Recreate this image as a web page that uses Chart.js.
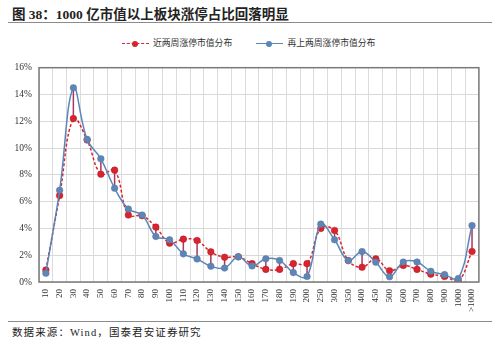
<!DOCTYPE html>
<html>
<head>
<meta charset="utf-8">
<script src="https://cdn.jsdelivr.net/npm/chart.js@4.4.0/dist/chart.umd.min.js"></script>
<style>
body { margin: 0; width: 499px; height: 344px; background: #fff; position: relative; overflow: hidden;
       font-family: 'Liberation Serif', 'Noto Sans CJK SC', serif; color: #222; }
#title { position: absolute; left: 12px; top: 3px; font-size: 13.5px; font-weight: bold; white-space: nowrap; }
.rule { position: absolute; left: 8px; width: 484px; height: 1px; background: #8c8c8c; }
#legend { position: absolute; top: 36px; left: 122px; font-size: 8.8px; color: #333; white-space: nowrap; }
.item { display: inline-block; vertical-align: middle; }
.swatch { display: inline-block; position: relative; width: 27px; height: 10px; vertical-align: middle; margin-right: 4px; }
.swatch .ln { position: absolute; left: 0; right: 0; top: 4px; }
.swatch .dot { position: absolute; left: 10px; top: 2px; width: 6px; height: 6px; border-radius: 50%; }
#chartBox { position: absolute; left: 0; top: 55px; }
#source { position: absolute; left: 12px; top: 324px; font-size: 10.5px; letter-spacing: 1.1px; white-space: nowrap; }
</style>
</head>
<body>
<div id="title">图 38：1000 亿市值以上板块涨停占比回落明显</div>
<div class="rule" style="top:22px"></div>
<div id="legend">
  <span class="item"><span class="swatch"><span class="ln" style="border-top:1.5px dashed #d9232e"></span><span class="dot" style="background:#d9232e"></span></span>近两周涨停市值分布</span>
  <span class="item" style="margin-left:22px"><span class="swatch"><span class="ln" style="border-top:1.5px solid #5b86ba"></span><span class="dot" style="background:#5b86ba"></span></span>再上两周涨停市值分布</span>
</div>
<div id="chartBox"><canvas id="chart" width="490" height="262"></canvas></div>
<div class="rule" style="top:321px"></div>
<div id="source">数据来源：Wind，国泰君安证券研究</div>

<script>
var categories = ['10', '20', '30', '40', '50', '60', '70', '80', '90', '100',
    '110', '120', '130', '140', '150', '160', '170', '180', '190', '200',
    '250', '300', '350', '400', '450', '500', '600', '700', '800', '900', '1000', '>1000'];

// 近两周 (red, dashed)
var recentShare = [0.9, 6.45, 12.2, 10.6, 8.05, 8.35, 5.0, 4.95, 4.1, 2.9,
    3.2, 3.1, 2.25, 1.85, 1.88, 1.37, 0.94, 0.94, 1.37, 1.37,
    4.0, 3.85, 1.6, 1.1, 1.73, 0.84, 1.23, 0.94, 0.58, 0.41, 0.05, 2.28];

// 再上两周 (blue, solid)
var priorShare = [0.65, 6.85, 14.5, 10.65, 9.2, 7.0, 5.45, 5.0, 3.4, 3.15,
    2.1, 1.72, 1.18, 1.04, 1.88, 1.2, 1.73, 1.61, 0.7, 0.41,
    4.32, 3.15, 1.6, 2.27, 1.47, 0.39, 1.49, 1.49, 0.8, 0.55, 0.25, 4.22];

var yTicks = [0, 2, 4, 6, 8, 10, 12, 14, 16];

var RED = '#d9232e';
var BLUE = '#5b86ba';

// excel style high-low lines + plot frame
var hiLoPlugin = {
    id: 'hiLo',
    beforeDatasetsDraw: function (chart) {
        var ctx = chart.ctx;
        var a = chart.getDatasetMeta(0).data;
        var b = chart.getDatasetMeta(1).data;
        ctx.save();
        ctx.strokeStyle = '#a8375f';
        ctx.lineWidth = 1.5;
        for (var i = 0; i < a.length; i++) {
            ctx.beginPath();
            ctx.moveTo(a[i].x, a[i].y);
            ctx.lineTo(b[i].x, b[i].y);
            ctx.stroke();
        }
        ctx.restore();
    },
    afterDraw: function (chart) {
        var c = chart.chartArea, ctx = chart.ctx;
        ctx.save();
        ctx.strokeStyle = '#7a7a7a';
        ctx.lineWidth = 1.5;
        ctx.strokeRect(c.left, c.top, c.right - c.left, c.bottom - c.top);
        ctx.restore();
    }
};

new Chart(document.getElementById('chart'), {
    type: 'line',
    data: {
        labels: categories,
        datasets: [
            {
                label: '近两周涨停市值分布', data: recentShare,
                borderColor: RED, backgroundColor: RED, borderWidth: 1.5, borderDash: [3, 2],
                pointRadius: 3.3, pointBackgroundColor: RED, pointBorderColor: '#b01c26', pointBorderWidth: 0.5,
                tension: 0.4, order: 2
            },
            {
                label: '再上两周涨停市值分布', data: priorShare,
                borderColor: BLUE, backgroundColor: BLUE, borderWidth: 1.5,
                pointRadius: 3.3, pointBackgroundColor: BLUE, pointBorderColor: '#6a7590', pointBorderWidth: 0.5,
                tension: 0.4, order: 1
            }
        ]
    },
    options: {
        responsive: false,
        animation: false,
        layout: { padding: { top: 5, right: 11, left: 0, bottom: 0 } },
        plugins: { legend: { display: false }, tooltip: { enabled: false } },
        scales: {
            x: {
                offset: true,
                grid: { offset: true, color: '#dcdcdc', lineWidth: 1, drawTicks: false },
                border: { display: false },
                ticks: {
                    autoSkip: false, minRotation: 90, maxRotation: 90, padding: 7,
                    color: '#333', font: { family: "'Liberation Serif', serif", size: 9 }
                },
                afterFit: function (s) { s.height = 35; }
            },
            y: {
                min: 0, max: 16,
                afterBuildTicks: function (s) { s.ticks = yTicks.map(function (v) { return { value: v }; }); },
                grid: { color: '#d9d9d9', lineWidth: 1, drawTicks: false },
                border: { display: false },
                ticks: {
                    padding: 7, color: '#333',
                    font: { family: "'Liberation Serif', serif", size: 9.5 },
                    callback: function (v) { return v + '%'; }
                },
                afterFit: function (s) { s.width = 39; }
            }
        }
    },
    plugins: [hiLoPlugin]
});
</script>
</body>
</html>
